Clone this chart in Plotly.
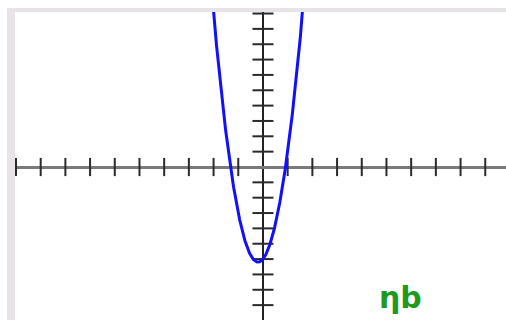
import numpy as np
import plotly.graph_objects as go

# Quadratic y = a*x^2 + b*x + c
coef_a, coef_b, coef_c = 5, 2, -6

# Tick positions on each axis
x_ticks = [t for t in range(-10, 10) if t != 0]
y_ticks = [t for t in range(-9, 11) if t != 0]

# Axis ranges
x_range = [-10.04, 9.84]
y_range = [-9.97, 10.1]

label_text = "ηb"
label_pos = (5.55, -8.5)

xs = np.linspace(-2.3, 2.1, 400)
ys = coef_a * xs**2 + coef_b * xs + coef_c

tick_color = "#2a2a2a"

fig = go.Figure()

# x-axis tick marks (vertical dashes sitting on y = 0)
fig.add_trace(go.Scatter(
    x=x_ticks, y=[0] * len(x_ticks), mode="markers",
    marker=dict(symbol="line-ns-open", size=13, color=tick_color,
                line=dict(color=tick_color, width=2)),
    hoverinfo="skip", showlegend=False,
))
# y-axis tick marks (horizontal dashes sitting on x = 0)
fig.add_trace(go.Scatter(
    x=[0] * len(y_ticks), y=y_ticks, mode="markers",
    marker=dict(symbol="line-ew-open", size=15, color=tick_color,
                line=dict(color=tick_color, width=2)),
    hoverinfo="skip", showlegend=False,
))
# the parabola
fig.add_trace(go.Scatter(
    x=xs, y=ys, mode="lines",
    line=dict(color="#1010ff", width=3),
    hoverinfo="skip", showlegend=False,
))

fig.add_annotation(
    x=label_pos[0], y=label_pos[1], text="<b>" + label_text + "</b>",
    showarrow=False,
    font=dict(family="DejaVu Sans", size=30, color="#1f9a1f"),
)

# light grey frame along the left and top edges
fig.add_shape(type="rect", xref="paper", yref="paper",
              x0=-8 / 491, x1=0, y0=0, y1=1 + 4 / 308,
              fillcolor="#e7e3e7", line_width=0, layer="below")
fig.add_shape(type="rect", xref="paper", yref="paper",
              x0=-8 / 491, x1=1, y0=1, y1=1 + 4 / 308,
              fillcolor="#e7e3e7", line_width=0, layer="below")

fig.update_xaxes(range=x_range, showgrid=False, showticklabels=False,
                 ticks="", zeroline=True, zerolinecolor="#222222",
                 zerolinewidth=2, fixedrange=True)
fig.update_yaxes(range=y_range, showgrid=False, showticklabels=False,
                 ticks="", zeroline=True, zerolinecolor="#7a7a7a",
                 zerolinewidth=2.5, fixedrange=True)

fig.update_layout(
    width=506, height=320,
    margin=dict(l=15, r=0, t=12, b=0),
    paper_bgcolor="white", plot_bgcolor="white",
)

fig.write_html("out.html", config={"displayModeBar": False})
